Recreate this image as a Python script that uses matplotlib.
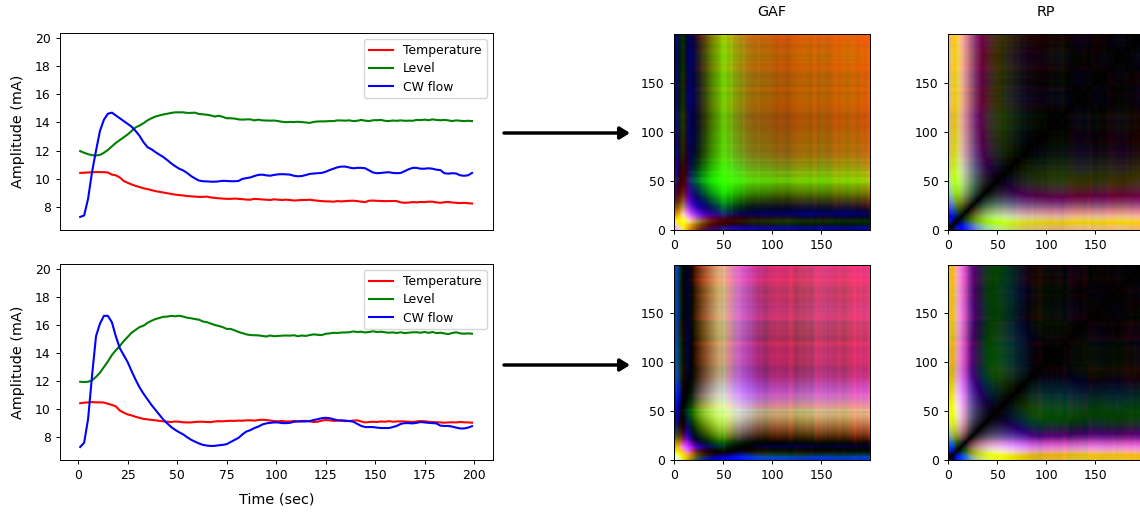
import numpy as np
import matplotlib
matplotlib.use("Agg")
import matplotlib.pyplot as plt

time = np.arange(1, 201, 2)

temp_top = [
10.42,10.44,10.45,10.47,10.48,10.48,10.47,10.45,10.3,10.25,
10.1,9.85,9.72,9.6,9.5,9.42,9.33,9.27,9.2,9.13,
9.08,9.03,8.98,8.93,8.88,8.85,8.82,8.78,8.76,8.74,
8.72,8.72,8.74,8.68,8.65,8.62,8.6,8.58,8.58,8.6,
8.58,8.56,8.53,8.52,8.58,8.56,8.54,8.52,8.5,8.55,
8.52,8.5,8.52,8.5,8.46,8.48,8.5,8.5,8.52,8.48,
8.45,8.42,8.4,8.4,8.38,8.42,8.4,8.42,8.44,8.45,
8.42,8.38,8.35,8.45,8.46,8.44,8.43,8.42,8.42,8.43,
8.42,8.33,8.3,8.32,8.35,8.33,8.36,8.35,8.38,8.38,
8.33,8.3,8.34,8.36,8.32,8.3,8.28,8.3,8.27,8.25]

level_top = [
11.97,11.85,11.75,11.68,11.66,11.7,11.85,12.05,12.3,12.55,
12.75,12.95,13.15,13.4,13.65,13.78,13.95,14.15,14.3,14.42,
14.5,14.57,14.62,14.68,14.72,14.72,14.72,14.68,14.68,14.7,
14.6,14.58,14.55,14.5,14.42,14.48,14.4,14.3,14.3,14.28,
14.22,14.2,14.22,14.22,14.15,14.2,14.15,14.14,14.13,14.14,
14.1,14.05,14.02,14.04,14.03,14.05,14.03,14.0,13.97,14.04,
14.07,14.08,14.08,14.1,14.1,14.15,14.14,14.13,14.15,14.1,
14.12,14.18,14.13,14.1,14.16,14.16,14.18,14.12,14.1,14.14,
14.12,14.15,14.12,14.13,14.12,14.18,14.17,14.2,14.16,14.22,
14.18,14.16,14.18,14.15,14.1,14.15,14.12,14.1,14.12,14.1]

flow_top = [
7.3,7.4,8.6,10.5,12.0,13.4,14.2,14.62,14.7,14.5,
14.3,14.1,13.9,13.7,13.4,13.05,12.6,12.25,12.1,11.9,
11.72,11.55,11.33,11.1,10.9,10.72,10.6,10.42,10.2,10.03,
9.88,9.83,9.82,9.8,9.8,9.82,9.86,9.85,9.83,9.83,
9.85,10.0,10.05,10.1,10.2,10.28,10.3,10.25,10.22,10.28,
10.32,10.33,10.32,10.3,10.22,10.18,10.2,10.27,10.35,10.38,
10.4,10.42,10.5,10.62,10.72,10.82,10.87,10.87,10.8,10.75,
10.78,10.78,10.75,10.6,10.45,10.4,10.42,10.45,10.47,10.42,
10.4,10.42,10.55,10.68,10.78,10.78,10.72,10.72,10.75,10.72,
10.65,10.62,10.4,10.37,10.4,10.38,10.25,10.22,10.25,10.42]

temp_bot = [
10.42,10.46,10.48,10.5,10.48,10.48,10.47,10.38,10.3,10.2,
9.9,9.75,9.62,9.55,9.45,9.38,9.3,9.27,9.23,9.2,
9.16,9.13,9.1,9.08,9.12,9.1,9.06,9.05,9.05,9.08,
9.1,9.1,9.08,9.07,9.12,9.14,9.13,9.15,9.17,9.16,
9.18,9.17,9.2,9.2,9.18,9.22,9.24,9.22,9.18,9.15,
9.13,9.15,9.12,9.12,9.15,9.13,9.15,9.16,9.12,9.08,
9.1,9.18,9.22,9.2,9.16,9.18,9.17,9.14,9.15,9.18,
9.2,9.12,9.05,9.08,9.1,9.08,9.12,9.1,9.14,9.1,
9.12,9.13,9.12,9.1,9.08,9.12,9.15,9.13,9.1,9.08,
9.06,9.05,9.03,9.05,9.06,9.05,9.08,9.06,9.05,9.03]

level_bot = [
11.95,11.93,11.95,12.05,12.3,12.6,13.0,13.4,13.85,14.2,
14.5,14.85,15.15,15.45,15.65,15.85,15.95,16.15,16.3,16.42,
16.5,16.58,16.6,16.65,16.62,16.66,16.6,16.52,16.48,16.42,
16.38,16.25,16.2,16.1,16.0,15.93,15.85,15.72,15.72,15.62,
15.5,15.42,15.33,15.28,15.27,15.26,15.22,15.18,15.25,15.2,
15.22,15.24,15.25,15.24,15.27,15.2,15.25,15.22,15.28,15.33,
15.3,15.28,15.37,15.4,15.44,15.43,15.46,15.47,15.48,15.54,
15.5,15.52,15.47,15.5,15.55,15.5,15.52,15.48,15.45,15.47,
15.43,15.48,15.42,15.45,15.48,15.48,15.45,15.5,15.44,15.5,
15.42,15.45,15.4,15.35,15.43,15.48,15.4,15.38,15.4,15.38]

flow_bot = [
7.3,7.6,9.3,12.4,15.2,16.1,16.65,16.65,16.2,15.2,
14.35,13.85,13.35,12.7,12.1,11.55,11.1,10.7,10.3,9.95,
9.6,9.25,8.98,8.72,8.52,8.35,8.2,8.0,7.82,7.68,
7.55,7.45,7.4,7.37,7.38,7.42,7.45,7.5,7.65,7.8,
7.95,8.2,8.4,8.5,8.65,8.75,8.9,8.98,9.02,9.05,
9.05,9.0,9.0,9.02,9.1,9.12,9.12,9.12,9.15,9.22,
9.28,9.35,9.38,9.35,9.28,9.2,9.2,9.18,9.15,9.1,
8.95,8.8,8.72,8.72,8.72,8.68,8.65,8.65,8.65,8.72,
8.8,8.95,9.0,9.0,8.98,9.02,9.08,9.05,9.02,9.0,
8.98,8.82,8.8,8.8,8.75,8.68,8.62,8.62,8.68,8.78]

series_names = ["Temperature", "Level", "CW flow"]
series_colors = ["red", "green", "blue"]
top_rows = [temp_top, level_top, flow_top]
bot_rows = [temp_bot, level_bot, flow_bot]
titles = ["GAF", "RP"]
W, H = 1140, 512


def rect(l, t, r, b):
    return [l / W, 1 - b / H, (r - l) / W, (b - t) / H]


def unit(v):
    v = np.asarray(v, float)
    return (v - v.min()) / (v.max() - v.min())


def gaf_rgb(rows):
    chans = []
    for v in rows:
        phi = np.arccos(np.clip(2 * unit(v) - 1, -1, 1))
        chans.append((np.cos(phi[:, None] + phi[None, :]) + 1) / 2)
    return np.dstack(chans)


def rp_rgb(rows):
    chans = []
    for v in rows:
        u = unit(v)
        chans.append(np.abs(u[:, None] - u[None, :]))
    return np.dstack(chans)


TICK = 8.9
LAB = 10.4
fig = plt.figure(figsize=(W / 100, H / 100), dpi=100)

for rows, box, is_bot in [(top_rows, (60, 33, 493, 230), False), (bot_rows, (60, 264, 493, 460), True)]:
    ax = fig.add_axes(rect(*box))
    for v, n, c in zip(rows, series_names, series_colors):
        ax.plot(time, v, color=c, lw=1.5, label=n)
    ax.set_xlim(-9.2, 209.6)
    ax.set_ylim(6.37, 20.35)
    ax.set_yticks(range(8, 21, 2))
    ax.set_xticks(range(0, 201, 25))
    ax.tick_params(labelsize=TICK, length=3.2, width=0.7, labelbottom=is_bot, bottom=is_bot)
    ax.set_ylabel("Amplitude (mA)", fontsize=LAB, labelpad=7)
    if is_bot:
        ax.set_xlabel("Time (sec)", fontsize=LAB, labelpad=7)
    ax.legend(loc="upper right", fontsize=TICK, borderaxespad=0.5, labelspacing=0.42)
    for s in ax.spines.values():
        s.set_linewidth(0.7)

for rows, top, bottom, first in [(top_rows, 34, 230, True), (bot_rows, 265, 460, False)]:
    for i, (func, left) in enumerate([(gaf_rgb, 674), (rp_rgb, 948)]):
        ax = fig.add_axes(rect(left, top, left + 196, bottom))
        ax.imshow(func(rows), origin="lower", extent=(-0.5, 199.5, -0.5, 199.5),
                  interpolation="hanning", aspect="auto")
        ax.set_xticks([0, 50, 100, 150])
        ax.set_yticks([0, 50, 100, 150])
        ax.tick_params(labelsize=TICK, length=3.2, width=0.7)
        for s in ax.spines.values():
            s.set_linewidth(0.7)
        if first:
            ax.set_title(titles[i], fontsize=LAB, pad=13)

for y in (133, 365):
    fig.add_artist(matplotlib.patches.FancyArrowPatch(
        (504 / W, 1 - y / H), (630 / W, 1 - y / H), transform=fig.transFigure,
        arrowstyle="-|>,head_length=0.32,head_width=0.2", mutation_scale=18,
        lw=2.5, color="black", shrinkA=0, shrinkB=0))

fig.savefig("out.png", dpi=100)
